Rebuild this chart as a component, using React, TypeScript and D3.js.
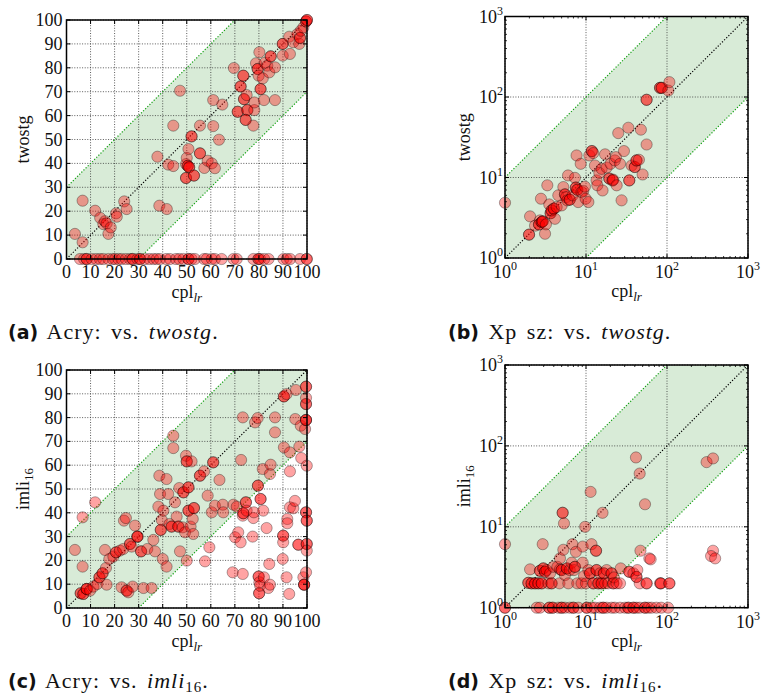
import React from 'react'
import * as d3 from 'd3'

// tick values
const linTicks = [0, 10, 20, 30, 40, 50, 60, 70, 80, 90, 100]
const logTicks = [1, 10, 100, 1000]
const logExp = ['0', '1', '2', '3']

// (a) Acry: cpl_lr vs twostg
const acryTwostg: [number, number][] = [
  [3.5, 10.5], [6.7, 7], [6.7, 24.4], [11.9, 20.2], [14, 17.2], [15.3, 14.6], [16, 15.8], [16.7, 14.9],
  [17.4, 10.5], [18.4, 13.2], [20.6, 19.1], [20.9, 17.7], [24, 24.1], [25, 20.9], [38.6, 22.3], [41.7, 20.9],
  [37.8, 42.8], [42.3, 39.5], [44.4, 38.9], [44.4, 55.8], [47.2, 70.4], [49.7, 39.7], [50, 42.3], [50.7, 46],
  [49.7, 33.9], [49.7, 33.9], [50.4, 39], [50.4, 39], [51, 38.4], [51, 38.4], [52, 51.3], [52, 51.3],
  [53, 34.9], [53, 34.9], [55.5, 44.2], [55.5, 44.2], [55.5, 55.8], [57.3, 38.1], [58.7, 41.1], [60.4, 40],
  [61.7, 38], [61, 55.6], [63.4, 49.9], [61, 66.5], [64.8, 64.6], [69.6, 79.9], [71.2, 61.6], [71.2, 61.6],
  [72.4, 72.2], [72.4, 72.2], [73.5, 76.7], [73.5, 76.7], [73.8, 66.9], [73.8, 66.9], [74.9, 68.6],
  [75.2, 62.3], [75.2, 62.3], [74.5, 58.2], [74.5, 58.2], [77.7, 55.8], [78.1, 62.3], [78.1, 65.5],
  [78.8, 81.9], [79.5, 79.5], [79.5, 79.5], [80.2, 86.5], [79.9, 76.7], [80.7, 71.1], [80.7, 71.1],
  [81.6, 75.6], [82.1, 66.5], [82.5, 82.1], [83.5, 80.9], [84.3, 78.1], [84.9, 84.8], [84.9, 84.8],
  [86.7, 80.2], [86.7, 66.5], [89.9, 90], [89.9, 90], [89.9, 85.1], [92.9, 85.8], [92.6, 93], [94.3, 90.7],
  [96, 94.1], [96.8, 90], [97.1, 92.5], [97.1, 92.5], [97.4, 95.5], [98.5, 96.9], [99.6, 99.4], [99.6, 99.4],
  [100, 100], [100, 100],
  [5.6, 0], [7.3, 0], [8.4, 0], [8.4, 0], [10.5, 0], [12.3, 0], [13.9, 0], [15.3, 0], [17.4, 0], [19.2, 0],
  [20.2, 0], [21.6, 0], [22.9, 0], [24.7, 0], [26.4, 0], [27.5, 0], [27.5, 0], [29.5, 0], [30.6, 0], [30.6, 0],
  [32.6, 0], [34.4, 0], [36.1, 0], [37.5, 0], [38.9, 0], [41.4, 0], [43, 0], [45.5, 0], [46.9, 0], [48.6, 0],
  [50.7, 0], [50.7, 0], [52, 0], [53.4, 0], [57.2, 0], [58.3, 0], [60.4, 0], [61.7, 0], [64.5, 0], [69.4, 0],
  [70.8, 0], [77.7, 0], [79.8, 0], [79.8, 0], [80.5, 0], [82.2, 0], [84, 0], [90.2, 0], [91.6, 0], [93, 0],
  [97.1, 0], [99.9, 0], [99.9, 0],
]

// (b) Xp sz: cpl_lr vs twostg
const xpTwostg: [number, number][] = [
  [1, 4.86], [1.98, 1.95], [1.98, 1.95], [2.04, 3.29], [2.35, 2.52], [2.7, 2.93], [2.63, 2.61], [2.63, 2.61],
  [2.84, 2.8], [2.84, 2.8], [2.92, 2.85], [2.92, 2.85], [2.78, 5.45], [3.12, 2.0], [3.2, 2.62], [3.33, 8.0],
  [3.52, 4.63], [3.66, 3.6], [3.66, 3.6], [3.76, 3.9], [3.76, 3.9], [4.0, 4.1], [4.0, 4.1], [4.14, 3.07],
  [4.34, 4.3], [4.55, 6], [5.0, 4.5], [5.25, 7.6], [5.5, 6.17], [5.5, 6.17], [5.66, 5.7], [5.87, 5.2],
  [6.0, 10.6], [6.3, 5.3], [6.3, 5.3], [6.85, 6], [7.3, 9.9], [7.5, 7.5], [7.5, 7.5], [7.8, 7.05], [7.8, 7.05],
  [7.65, 18.8], [8.0, 4.95], [8.6, 14.8], [8.8, 6.6], [9.25, 6.8], [9.7, 7.7], [9.9, 5.45], [10.7, 4.95],
  [11, 18.8], [11.8, 21.3], [11.8, 21.3], [12.3, 20.1], [12.9, 14.1], [13.5, 9.2], [13.8, 8.0], [14.6, 11.4],
  [15.6, 12.8], [16, 6.9], [17.2, 19.4], [18, 13.3], [19.4, 9.7], [19.4, 9.7], [20.1, 14.8], [21.3, 9.2],
  [21.3, 9.2], [21.7, 9.4], [22.7, 16.3], [23.4, 17.9], [23.9, 8.0], [25, 35.6], [26.3, 14.8], [27.5, 5.2],
  [29.4, 21.3], [33.3, 41.5], [34.2, 9.2], [34.2, 9.2], [36.6, 14.1], [40, 13.5], [40, 13.5], [42, 16.3],
  [42, 16.3], [45, 16.6], [47.6, 39.3], [50, 10.9], [56, 25.7], [56, 92.3], [56, 92.3], [82, 130], [82, 130],
  [86, 130], [86, 130], [104, 120], [107, 153],
]

// (c) Acry: cpl_lr vs imli16
const acryImli: [number, number][] = [
  [3.5, 24.4], [6.7, 17.4], [6.7, 38.1], [11.9, 44.4], [5.9, 6.2], [5.9, 6.2], [7, 5.9], [7, 5.9], [8.4, 8],
  [8.4, 8], [8.4, 8], [9.8, 7.3], [11.2, 9], [12.8, 10.1], [13.7, 12.9], [13.7, 12.9], [15, 14.6], [15, 14.6],
  [16.4, 16.8], [16.7, 9.8], [17.8, 20.6], [16, 24.4], [19.5, 21.6], [20.6, 23.4], [20.6, 23.4], [22.2, 24.1],
  [22.9, 8.7], [23.9, 36.7], [24.7, 37.8], [23.6, 24.8], [25, 7.3], [25, 7.3], [25.7, 6.6], [26.4, 26.9],
  [26.4, 26.9], [27.1, 25.8], [27.5, 9], [28.5, 34.6], [29.5, 30], [29.5, 30], [29.5, 30], [31, 23.8],
  [31, 23.8], [32, 8.4], [33.6, 24.8], [35.4, 8.4], [36.1, 28.6], [36.8, 23.8], [38.2, 42.6], [38.6, 55.6],
  [38.9, 47.9], [39.2, 32.8], [39.2, 32.8], [39.6, 37], [40, 20.6], [40.3, 40.9], [41.6, 54.2], [41.6, 17.4],
  [42.3, 47.9], [42.8, 35.3], [43.7, 34.2], [43.7, 34.2], [44.4, 72.4], [44.4, 67.2], [45.1, 44.4],
  [45.8, 38.4], [46.5, 34.2], [46.5, 34.2], [46.9, 50.4], [47.2, 23.8], [48.3, 33.9], [48.6, 48.6],
  [48.6, 48.6], [49.3, 31.8], [49.7, 64], [50, 61.6], [50, 61.6], [50, 19.9], [50.7, 40.9], [50.7, 40.9],
  [50.7, 50.7], [50.7, 50.7], [51.6, 34.2], [52, 61.6], [52.5, 37.4], [52.7, 31.1], [53, 42], [53, 42],
  [55.5, 55.6], [55.5, 55.6], [57.2, 57.4], [57.6, 19.6], [58.7, 47.2], [59.4, 25.5], [60.4, 40.2], [61, 61.2],
  [61, 61.2], [61.7, 43], [63.6, 53.8], [65, 43.4], [65.2, 40.2], [69.1, 15], [69.4, 43.4], [70.1, 29.7],
  [70.8, 42.6], [71.4, 31.8], [72.4, 27.6], [72.6, 62.2], [73.3, 80.1], [73.3, 38.8], [73.3, 14.3],
  [73.5, 39.8], [73.5, 39.8], [74.6, 44.4], [74.6, 44.4], [74.9, 40.9], [77.4, 30], [77.7, 37.8], [77.9, 40.2],
  [78.4, 78], [79.5, 79.8], [79.6, 51.4], [79.6, 51.4], [79.9, 13.2], [79.9, 13.2], [80.1, 6.2], [80.1, 6.2],
  [80.2, 10.8], [80.5, 9.4], [80.7, 45.8], [80.7, 45.8], [81.6, 58.4], [81.8, 40.9], [82.1, 12.9], [83.2, 33.6],
  [83.9, 8.4], [84.3, 18.5], [84.6, 56.3], [84.6, 9.8], [84.9, 60.2], [86.7, 73.8], [86.7, 80.1], [89.9, 20.6],
  [90.1, 30.4], [90.1, 30.4], [90.1, 27.6], [90.4, 67.5], [90.4, 88.9], [90.4, 88.9], [91.5, 89.9],
  [91.5, 12.9], [91.8, 37.4], [91.8, 35.6], [92.6, 5.9], [92.9, 65.4], [92.9, 57.4], [92.9, 42.3], [94.3, 41.9],
  [95, 45], [95.1, 79.4], [95.4, 91.6], [96.4, 26.6], [96.4, 26.6], [96.8, 67.8], [97.4, 76.6], [97.6, 63],
  [98.5, 12.9], [98.8, 9.8], [98.8, 9.8], [98.8, 9.8], [99.2, 75.2], [99.6, 93], [99.6, 93], [99.6, 85.7],
  [99.6, 85.7], [99.6, 79], [99.6, 79], [99.6, 79], [99.6, 88.3], [99.6, 40.2], [99.6, 40.2], [99.9, 36.7],
  [99.9, 36.7], [99.9, 26.9], [99.9, 26.9], [99.6, 15], [99.9, 59.8], [99.9, 24.1],
]

// (d) Xp sz: cpl_lr vs imli16
const xpImli: [number, number][] = [
  [1, 6.1], [1, 1], [1, 1], [2.04, 2.98], [1.94, 2.03], [1.94, 2.03], [2.13, 2], [2.13, 2], [2.35, 2], [2.35, 2],
  [2.58, 2], [2.58, 2], [2.84, 2], [2.84, 2], [2.7, 2.86], [2.7, 2.86], [2.92, 6.1], [2.97, 3.06], [2.97, 3.06],
  [3.12, 2.78], [3.12, 2.78], [3.26, 2.92], [3.43, 2], [3.76, 2], [3.76, 2], [3.6, 2.66], [3.95, 3.2],
  [4.43, 3.2], [4.77, 2.98], [4.77, 4.07], [4.7, 2], [5.0, 2.92], [5.0, 2.92], [5.15, 14.9], [5.15, 14.9],
  [5.25, 5.2], [5.35, 11.0], [5.5, 2.53], [5.8, 3.06], [5.8, 3.06], [6.05, 2], [6.3, 2.92], [6.65, 3.6],
  [6.8, 6.1], [7.1, 2.92], [7.3, 3.2], [7.3, 3.2], [7.5, 4.9], [7.8, 2], [8.8, 2], [9.1, 5.7], [9.1, 3.6],
  [9.45, 2.46], [9.75, 10], [10, 2], [10.7, 2.92], [11.2, 2.66], [11.2, 2.66], [11.4, 27], [11.7, 6.1],
  [12.3, 2], [12.3, 2], [13.3, 5.06], [13.3, 5.06], [13.5, 2.92], [13.5, 2.92], [14.2, 2], [14.2, 2],
  [14.9, 2.66], [15.6, 2], [15.6, 2], [16, 14.9], [16.6, 2.66], [16.6, 2.66], [17.2, 2], [18, 2.92], [18.8, 2],
  [20.7, 2.66], [20.7, 2.66], [21.7, 2], [21.7, 2], [22.1, 2.37], [23.9, 2], [26.3, 2], [26.8, 3.06],
  [34.2, 2.78], [34.2, 2.78], [38.5, 2.66], [41.4, 72], [42, 2.4], [42, 2.4], [43, 2.92], [46, 45.5], [46, 2],
  [47, 5.06], [53.5, 19], [56, 2], [56, 2], [60.5, 4.07], [62.8, 3.96], [82, 2], [84, 2], [84, 2], [107, 2],
  [107, 2], [308, 63], [370, 70], [370, 5.06], [350, 4.35], [393, 4.07],
  [2.46, 1], [2.7, 1], [3.52, 1], [3.52, 1], [3.88, 1], [3.88, 1], [4.55, 1], [5, 1], [5, 1], [5.5, 1], [6.3, 1],
  [6.98, 1], [6.98, 1], [8.04, 1], [10.2, 1], [10.2, 1], [11.7, 1], [12.9, 1], [14.9, 1], [16.3, 1], [16.3, 1],
  [18, 1], [20.7, 1], [22.7, 1], [26.3, 1], [30.3, 1], [33.3, 1], [33.3, 1], [38.5, 1], [38.5, 1], [42, 1],
  [46, 1], [53.5, 1], [53.5, 1], [58.7, 1], [64.4, 1], [74, 1], [84.8, 1], [103, 1],
]

const serif = '"Liberation Serif", "DejaVu Serif", serif'
const sans = '"DejaVu Sans", sans-serif'

type Box = { left: number, right: number, top: number, bottom: number }

type PanelProps = {
  box: Box,
  log: boolean,
  points: [number, number][],
  yLabel: string,
  ySub?: string,
  yLabelX: number,
}

const Panel = ({ box, log, points, yLabel, ySub, yLabelX }: PanelProps) => {
  const domain = log ? [1, 1000] : [0, 100]
  const x = (log ? d3.scaleLog() : d3.scaleLinear()).domain(domain).range([box.left, box.right])
  const y = (log ? d3.scaleLog() : d3.scaleLinear()).domain(domain).range([box.bottom, box.top])
  const ticks = log ? logTicks : linTicks
  const minor: number[] = []
  if (log) {
    [1, 10, 100].forEach((d) => { for (let k = 2; k < 10; k += 1) minor.push(d * k) })
  }
  const lo = domain[0]
  const hi = domain[1]
  // +-30 band (linear) or 10x band (log)
  const band = log
    ? [[1, 1], [1, 10], [100, 1000], [1000, 1000], [1000, 100], [10, 1]]
    : [[0, 0], [0, 30], [70, 100], [100, 100], [100, 70], [30, 0]]
  const edges = log
    ? [[[1, 10], [100, 1000]], [[10, 1], [1000, 100]]]
    : [[[0, 30], [70, 100]], [[30, 0], [100, 70]]]
  const poly = band.map(p => `${x(p[0])},${y(p[1])}`).join(' ')
  const cx = (box.left + box.right) / 2
  const cy = (box.top + box.bottom) / 2

  return (
    <g>
      <polygon points={poly} fill="#d8ebd7" />
      {ticks.map(t => (
        <g key={`g${t}`} stroke="#333" strokeWidth={1} strokeDasharray="1,1.6" strokeOpacity={0.8}>
          <line x1={x(t)} x2={x(t)} y1={box.top} y2={box.bottom} />
          <line x1={box.left} x2={box.right} y1={y(t)} y2={y(t)} />
        </g>
      ))}
      {edges.map((e, i) => (
        <line key={`e${i}`} x1={x(e[0][0])} y1={y(e[0][1])} x2={x(e[1][0])} y2={y(e[1][1])}
          stroke="#13a013" strokeWidth={1.2} strokeDasharray="1.2,1.8" />
      ))}
      <line x1={x(lo)} y1={y(lo)} x2={x(hi)} y2={y(hi)} stroke="#000" strokeWidth={1.2} strokeDasharray="1.2,1.8" />
      {points.map((p, i) => (
        <circle key={`p${i}`} cx={x(p[0])} cy={y(p[1])} r={5.6} fill="#ff0000" fillOpacity={0.36}
          stroke="#000" strokeOpacity={0.32} strokeWidth={1} />
      ))}
      <rect x={box.left} y={box.top} width={box.right - box.left} height={box.bottom - box.top}
        fill="none" stroke="#000" strokeWidth={1.5} />
      {ticks.map(t => (
        <g key={`t${t}`} stroke="#000" strokeWidth={1}>
          <line x1={x(t)} x2={x(t)} y1={box.bottom} y2={box.bottom - 4} />
          <line x1={x(t)} x2={x(t)} y1={box.top} y2={box.top + 4} />
          <line x1={box.left} x2={box.left + 4} y1={y(t)} y2={y(t)} />
          <line x1={box.right} x2={box.right - 4} y1={y(t)} y2={y(t)} />
        </g>
      ))}
      {minor.map(t => (
        <g key={`m${t}`} stroke="#000" strokeWidth={0.8}>
          <line x1={x(t)} x2={x(t)} y1={box.bottom} y2={box.bottom - 2} />
          <line x1={x(t)} x2={x(t)} y1={box.top} y2={box.top + 2} />
          <line x1={box.left} x2={box.left + 2} y1={y(t)} y2={y(t)} />
          <line x1={box.right} x2={box.right - 2} y1={y(t)} y2={y(t)} />
        </g>
      ))}
      <g fontFamily={serif} fontSize={18} fill="#111">
        {ticks.map((t, i) => (log ? (
          <g key={`l${t}`}>
            <text x={x(t)} y={box.bottom + 20} textAnchor="middle">
              10<tspan fontSize={12} dy={-8}>{logExp[i]}</tspan>
            </text>
            <text x={box.left - 2} y={y(t) + 6} textAnchor="end">
              10<tspan fontSize={12} dy={-8}>{logExp[i]}</tspan>
            </text>
          </g>
        ) : (
          <g key={`l${t}`}>
            <text x={x(t)} y={box.bottom + 19} textAnchor="middle">{t}</text>
            <text x={box.left - 4} y={y(t) + 6} textAnchor="end">{t}</text>
          </g>
        )))}
        <text x={cx} y={box.bottom + 39} textAnchor="middle">
          cpl<tspan fontSize={13} fontStyle="italic" dy={4}>lr</tspan>
        </text>
        <text transform={`translate(${yLabelX},${cy}) rotate(-90)`} textAnchor="middle">
          {yLabel}{ySub ? <tspan fontSize={13} dy={4}>{ySub}</tspan> : null}
        </text>
      </g>
    </g>
  )
}

type CaptionProps = { x: number, y: number, tag: string, set: string, name: string, sub?: string }

const Caption = ({ x, y, tag, set, name, sub }: CaptionProps) => (
  <text x={x} y={y} fontFamily={serif} fontSize={22} fill="#111" letterSpacing={1} wordSpacing={3}>
    <tspan fontFamily={sans} fontWeight="bold" fontSize={19} letterSpacing={0}>{`(${tag})`}</tspan>
    <tspan>{` ${set}: vs. `}</tspan>
    <tspan fontStyle="italic">{name}</tspan>
    {sub ? <tspan fontSize={15} dy={4}>{sub}</tspan> : null}
    <tspan dy={sub ? -4 : 0}>.</tspan>
  </text>
)

const App = () => (
  <svg width={764} height={699} style={{ position: 'absolute', left: 0, top: 0, background: '#fff' }}>
    <Panel box={{ left: 66.5, right: 307, top: 20, bottom: 259 }} log={false} points={acryTwostg}
      yLabel="twostg" yLabelX={29} />
    <Panel box={{ left: 505, right: 748, top: 16.5, bottom: 258 }} log points={xpTwostg}
      yLabel="twostg" yLabelX={470} />
    <Panel box={{ left: 66.5, right: 307, top: 370, bottom: 608 }} log={false} points={acryImli}
      yLabel="imli" ySub="16" yLabelX={29} />
    <Panel box={{ left: 505, right: 748, top: 365, bottom: 607.7 }} log points={xpImli}
      yLabel="imli" ySub="16" yLabelX={470} />
    <Caption x={8} y={339} tag="a" set="Acry" name="twostg" />
    <Caption x={448} y={339} tag="b" set="Xp sz" name="twostg" />
    <Caption x={8} y={688} tag="c" set="Acry" name="imli" sub="16" />
    <Caption x={448} y={688} tag="d" set="Xp sz" name="imli" sub="16" />
  </svg>
)

export default App
